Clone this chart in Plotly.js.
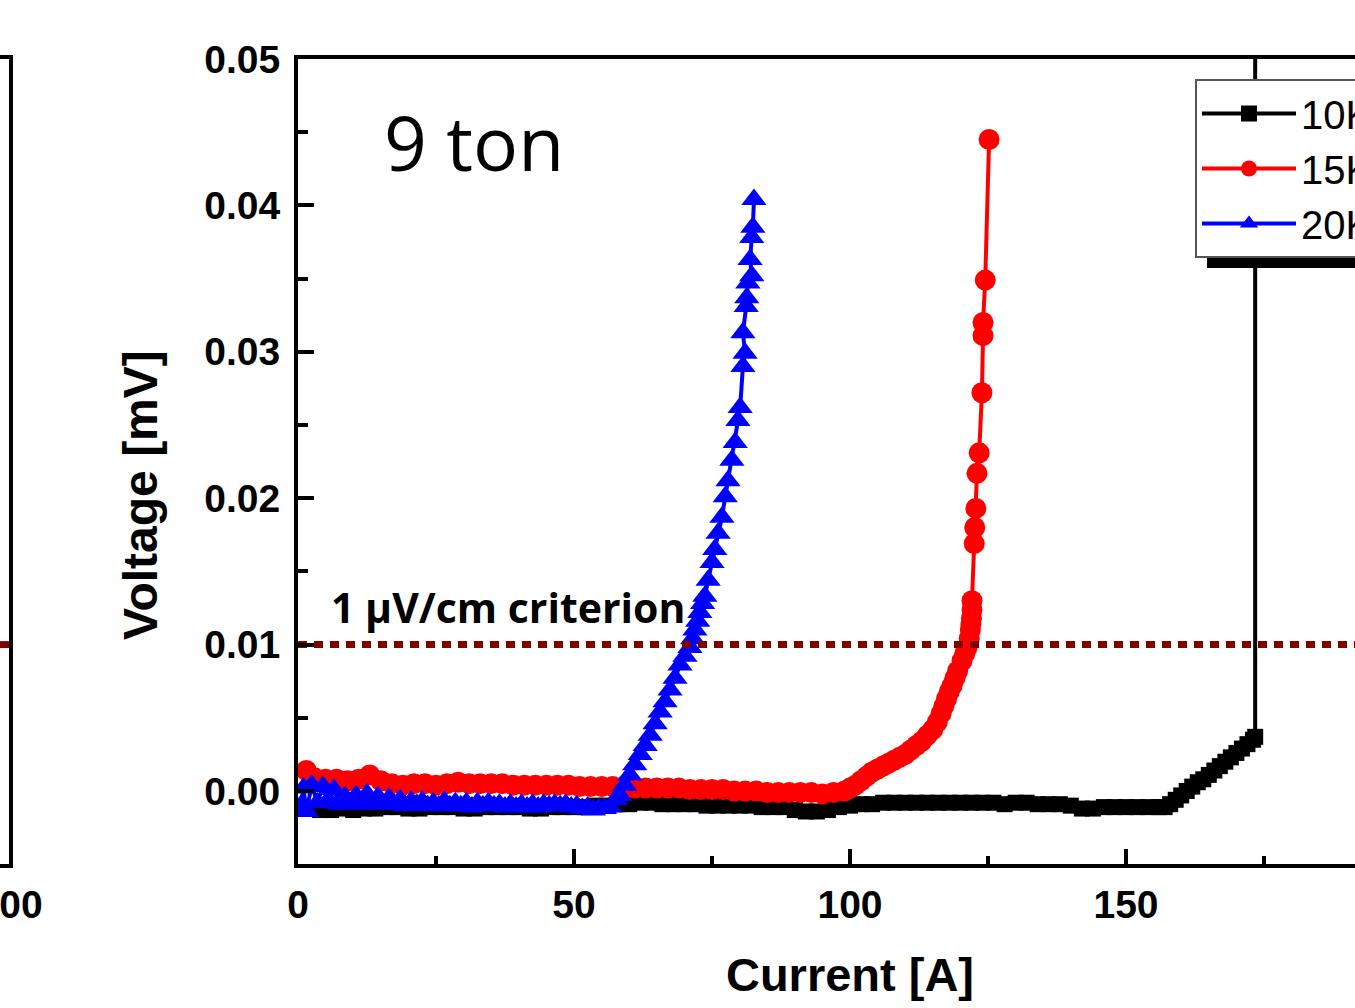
<!DOCTYPE html>
<html>
<head>
<meta charset="utf-8">
<script src="https://cdn.plot.ly/plotly-3.0.1.min.js"></script>
<style>html,body{margin:0;padding:0;background:#fff;overflow:hidden;}#chart{width:1402px;height:1008px;}</style>
</head>
<body>
<div id="chart"></div>
<script>
// ---- data ----
const seriesNames = ['10K', '15K', '20K'];

const blackCurrent = [
  0,2,4,6,8,10,12,14,16,18,
  20,22,24,26,28,30,32,34,36,38,
  40,42,44,46,48,50,52,54,56,58,
  60,62,64,66,68,70,72,74,76,78,
  80,82,84,86,88,90,92,94,96,98,
  100,102,104,106,108,110,112,114,116,118,
  120,122,124,126,128,130,132,134,136,138,
  140,142,144,146,148,150,152,154,156,
  157,158,159,160,161,162,163,164,165,166,
  167,168,169,170,171,172,173,
  173.4,173.4];
const blackVoltage = [
  -0.0012,-0.0012,-0.0013,-0.0013,-0.0012,-0.0013,-0.0012,-0.0012,-0.0011,-0.0011,
  -0.0012,-0.0012,-0.0011,-0.0011,-0.0011,-0.0012,-0.0012,-0.0011,-0.0011,-0.0011,
  -0.0011,-0.0012,-0.0012,-0.0011,-0.0011,-0.0011,-0.0011,-0.0010,-0.0010,-0.0009,
  -0.0009,-0.0008,-0.0008,-0.0009,-0.0009,-0.0009,-0.0009,-0.0010,-0.0010,-0.0010,
  -0.0010,-0.0010,-0.0011,-0.0011,-0.0011,-0.0013,-0.0014,-0.0014,-0.0013,-0.0011,
  -0.0010,-0.0009,-0.0009,-0.0008,-0.0008,-0.0008,-0.0008,-0.0008,-0.0008,-0.0008,
  -0.0008,-0.0008,-0.0008,-0.0008,-0.0009,-0.0008,-0.0008,-0.0009,-0.0009,-0.0009,
  -0.0010,-0.0012,-0.0012,-0.0011,-0.0011,-0.0011,-0.0011,-0.0011,-0.0011,
  -0.0011,-0.0009,-0.0006,-0.0003,0.0000,0.0003,0.0006,0.0008,0.0011,0.0014,
  0.0017,0.0020,0.0023,0.0026,0.0029,0.0032,0.0035,
  0.0037,0.08];

const redCurrent = [
  1.5,3,5,7,9,11,13,15,17,19,
  21,23,25,27,29,31,33,35,37,39,
  41,43,45,47,49,51,53,55,57,59,
  61,63,65,67,69,71,73,75,77,79,
  81,83,85,87,89,91,93,95,97,99,
  100,101,102,103,104,105,106,107,108,109,
  110,111,112,113,114,115,115.8,116.5,117,117.5,
  118,118.5,119,119.5,120.3,120.8,121.2,121.6,121.8,121.9,
  122.0,122.1,122.1,122.5,122.6,122.8,123.0,123.4,123.9,124.1,
  124.1,124.5,125.2];
const redVoltage = [
  0.0014,0.0009,0.0008,0.0008,0.0007,0.0008,0.0011,0.0007,0.0005,0.0004,
  0.0005,0.0005,0.0004,0.0005,0.0006,0.0005,0.0005,0.0005,0.0005,0.0004,
  0.0004,0.0004,0.0004,0.0004,0.0004,0.0003,0.0003,0.0003,0.0003,0.0003,
  0.0002,0.0002,0.0002,0.0002,0.0002,0.0001,0.0001,0.0001,0.0001,0.0000,
  0.0000,0.0000,-0.0001,-0.0001,-0.0001,-0.0001,-0.0001,-0.0002,-0.0001,0.0000,
  0.0002,0.0004,0.0007,0.0010,0.0013,0.0015,0.0017,0.0019,0.0021,0.0023,
  0.0025,0.0028,0.0031,0.0034,0.0038,0.0042,0.0047,0.0053,0.0058,0.0063,
  0.0068,0.0072,0.0077,0.0082,0.0089,0.0094,0.0098,0.0104,0.0110,0.0114,
  0.0118,0.0124,0.0130,0.0169,0.0180,0.0193,0.0217,0.0231,0.0272,0.0311,
  0.0320,0.0349,0.0445];

const blueCurrent = [0.5,1,1.5,
  2.5,3.5,4.5,5.5,6.5,
  7.5,8.5,9.5,10.5,11.5,12.5,13.5,14.5,15.5,16.5,
  17.5,18.5,19.5,20.5,21.5,22.5,23.5,24.5,25.5,26.5,
  27.5,28.5,29.5,30.5,31.5,32.5,33.5,34.5,35.5,36.5,
  37.5,38.5,39.5,40.5,41.5,42.5,43.5,44.5,45.5,46.5,
  47.5,48.5,49.5,50.5,51.5,52.5,53.5,54.5,55.5,56.5,
  57.5,58.3,59.2,60.1,61,62,62.9,63.8,64.7,65.6,66.5,67.4,68.3,69.2,70.1,71,
  71.5,71.9,72.4,72.8,73.3,73.7,74.3,75,75.5,76.1,76.8,77.4,77.9,78.6,79.2,79.7,80.1,
  80.6,81,80.6,81.2,81.3,81.5,82.2,81.9,82.2,82.4,82.6];
const blueVoltage = [-0.0010,0.0002,-0.0014,
  0.0004,-0.0008,0.0003,-0.0006,0.0001,
  -0.0009,-0.0004,-0.0008,-0.0003,-0.0009,-0.0002,-0.0008,-0.0004,-0.0009,-0.0005,
  -0.0009,-0.0006,-0.0010,-0.0007,-0.0009,-0.0007,-0.0010,-0.0008,-0.0010,-0.0007,
  -0.0010,-0.0008,-0.0010,-0.0008,-0.0011,-0.0008,-0.0010,-0.0008,-0.0010,-0.0009,
  -0.0011,-0.0009,-0.0011,-0.0009,-0.0011,-0.0009,-0.0011,-0.0009,-0.0010,-0.0009,
  -0.0010,-0.0009,-0.0011,-0.0010,-0.0012,-0.0011,-0.0013,-0.0012,-0.0012,-0.0011,
  -0.0006,-0.0003,0.0004,0.0011,0.0018,0.0025,0.0031,0.0038,0.0046,0.0054,0.0061,0.0069,0.0077,0.0086,0.0092,0.0098,
  0.0104,0.0110,0.0116,0.0122,0.0128,0.0133,0.0144,0.0156,0.0165,0.0176,0.0187,0.0201,0.0212,0.0226,0.0238,0.0253,0.0262,
  0.0290,0.0299,0.0313,0.0331,0.0337,0.0347,0.0352,0.0363,0.0378,0.0385,0.0404];

const criterionCurrent = [0, 200];
const criterionVoltage = [0.01, 0.01];
const leftPanelCurrent = [190, 200];
const leftPanelVoltage = [0.01, 0.01];

const xTickValues = [0, 50, 100, 150, 200];
const yTickValues = [0.00, 0.01, 0.02, 0.03, 0.04, 0.05];
const leftPanelTickValues = [200];
const leftPanelTickText = ['00'];

const panelLabel = '9 ton';
const criterionLabel = '1 μV/cm criterion';
const xTitle = 'Current [A]';
const yTitle = 'Voltage [mV]';

// ---- drawing ----
const ARIAL = 'Liberation Sans, Arial, Helvetica, sans-serif';
const CALIBRI = 'Open Sans, Noto Sans, sans-serif';

const traces = [
  {x: blackCurrent, y: blackVoltage, name: seriesNames[0], type: 'scatter', mode: 'lines+markers',
   line: {color: '#000000', width: 4}, marker: {symbol: 'square', size: 16, color: '#000000'}},
  {x: redCurrent, y: redVoltage, name: seriesNames[1], type: 'scatter', mode: 'lines+markers',
   line: {color: '#ff0000', width: 4}, marker: {symbol: 'circle', size: 21, color: '#ff0000'}},
  {x: blueCurrent, y: blueVoltage, name: seriesNames[2], type: 'scatter', mode: 'lines+markers',
   line: {color: '#0000ff', width: 4}, marker: {symbol: 'triangle-up', size: 22, color: '#0000ff'}},
  {x: criterionCurrent, y: criterionVoltage, type: 'scatter', mode: 'lines', showlegend: false,
   line: {color: '#800000', width: 7, dash: '9px,7px'}, hoverinfo: 'skip'},
  {x: leftPanelCurrent, y: leftPanelVoltage, xaxis: 'x2', yaxis: 'y2', type: 'scatter', mode: 'lines', showlegend: false,
   line: {color: '#800000', width: 7, dash: '9px,7px'}, hoverinfo: 'skip'}
];

const W = 1402, H = 1008, T = 59, B = 144;
const plotH = H - T - B;
const py = p => (H - B - p) / plotH; // pixel row -> paper y
const px = p => p / W;               // pixel column -> paper x

const axisCommon = {
  showline: true, linecolor: '#000', linewidth: 4, showgrid: false, zeroline: false,
  ticks: 'inside', tickcolor: '#000', tickwidth: 4, automargin: false
};
const tickFont = {family: ARIAL, size: 39, color: '#000', weight: 'bold'};

const layout = {
  width: W, height: H,
  margin: {l: 0, r: 0, t: T, b: B, pad: 0, autoexpand: false},
  paper_bgcolor: '#ffffff', plot_bgcolor: '#ffffff',
  showlegend: true,
  xaxis: Object.assign({}, axisCommon, {
    domain: [px(298), 1], range: [0, 200], mirror: true,
    tickvals: xTickValues, ticklen: 15,
    minor: {dtick: 25, tick0: 0, ticks: 'inside', ticklen: 8, tickwidth: 4, tickcolor: '#000', showgrid: false},
    tickfont: tickFont,
    ticklabelstandoff: 3,
    title: {text: xTitle, font: {family: ARIAL, size: 47, color: '#000', weight: 'bold'}, standoff: 34}
  }),
  yaxis: Object.assign({}, axisCommon, {
    domain: [0, 1], range: [-0.004986, 0.05], mirror: false,
    tickvals: yTickValues, tickformat: '.2f', ticklen: 16,
    minor: {dtick: 0.005, tick0: 0, ticks: 'inside', ticklen: 10, tickwidth: 4, tickcolor: '#000', showgrid: false},
    tickfont: tickFont,
    ticklabelstandoff: 6
  }),
  xaxis2: Object.assign({}, axisCommon, {
    domain: [0, px(9)], anchor: 'y2', range: [190, 200], mirror: true,
    tickvals: leftPanelTickValues, ticktext: leftPanelTickText, ticks: '', ticklabeloverflow: 'allow',
    ticklabelshift: 12, tickfont: tickFont, ticklabelstandoff: 3
  }),
  yaxis2: Object.assign({}, axisCommon, {
    domain: [0, 1], anchor: 'x2', side: 'right', range: [-0.004986, 0.05],
    ticks: '', showticklabels: false
  }),
  legend: {
    x: px(1195), xanchor: 'left', y: py(79), yanchor: 'top',
    bgcolor: '#ffffff', bordercolor: '#555555', borderwidth: 2,
    font: {family: ARIAL, size: 40, color: '#000'},
    itemwidth: 94, tracegroupgap: 0, traceorder: 'normal'
  },
  shapes: [
    {type: 'rect', xref: 'paper', yref: 'paper', x0: px(1207), x1: 1, y0: py(268), y1: py(92),
     fillcolor: '#000000', line: {width: 0}, layer: 'above'}
  ],
  annotations: [
    {text: panelLabel, xref: 'x', yref: 'y', x: 15.2, y: 0.0443, xanchor: 'left', yanchor: 'middle',
     showarrow: false, font: {family: CALIBRI, size: 75, color: '#000'}},
    {text: criterionLabel, xref: 'x', yref: 'y', x: 5.6, y: 0.01257, xanchor: 'left', yanchor: 'middle',
     showarrow: false, font: {family: CALIBRI, size: 41, color: '#000', weight: 'bold'}},
    {text: yTitle, xref: 'paper', yref: 'paper', x: px(140), y: py(495), xanchor: 'center', yanchor: 'middle',
     textangle: -90, showarrow: false, font: {family: ARIAL, size: 48, color: '#000', weight: 'bold'}}
  ]
};

Plotly.newPlot('chart', traces, layout, {displayModeBar: false, staticPlot: true});
</script>
</body>
</html>
